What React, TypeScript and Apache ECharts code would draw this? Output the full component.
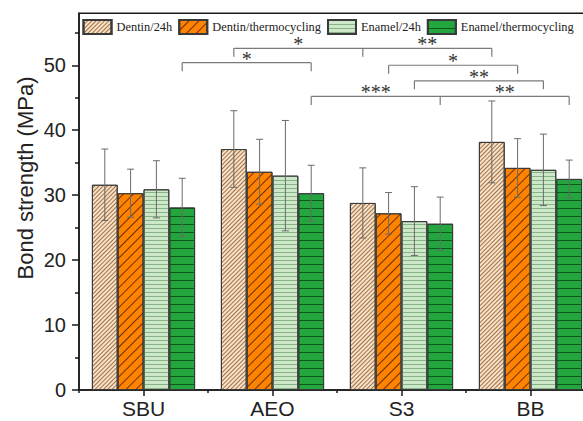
import React, { useEffect, useRef } from 'react';
import * as echarts from 'echarts';

const categories = ['SBU', 'AEO', 'S3', 'BB'];
const seriesNames = ['Dentin/24h', 'Dentin/thermocycling', 'Enamel/24h', 'Enamel/thermocycling'];

const dentin24h = [31.6, 37.1, 28.8, 38.2];
const dentin24hSD = [5.5, 5.9, 5.4, 6.3];
const dentinTC = [30.3, 33.6, 27.2, 34.2];
const dentinTCSD = [3.7, 5.0, 3.2, 4.5];
const enamel24h = [30.9, 33.0, 26.0, 33.9];
const enamel24hSD = [4.4, 8.5, 5.3, 5.5];
const enamelTC = [28.1, 30.3, 25.6, 32.5];
const enamelTCSD = [4.5, 4.3, 4.1, 2.9];

const yTicks = [0, 10, 20, 30, 40, 50];
const yMinorTicks = [5, 15, 25, 35, 45, 55];
const yMax = 58;

// significance brackets: [categoryIndex, seriesIndex] anchors, height (MPa), labels between anchors
const bracketAnchors = [
  [[1, 0], [2, 0], [3, 0]],
  [[0, 3], [1, 3]],
  [[2, 1], [3, 1]],
  [[2, 2], [3, 2]],
  [[1, 3], [2, 3], [3, 3]],
];
const bracketHeights = [52.6, 50.4, 50.0, 47.6, 45.2];
const bracketLabels = [['*', '**'], ['*'], ['*'], ['**'], ['***', '**']];

const means = [dentin24h, dentinTC, enamel24h, enamelTC];
const sds = [dentin24hSD, dentinTCSD, enamel24hSD, enamelTCSD];

const fills = ['#fbe0c4', '#ff8200', '#cde8c9', '#22a63d'];
const decals = [
  { color: 'rgba(120,80,40,0.75)', dashArrayY: [1, 2], rotation: -Math.PI / 4 },
  { color: 'rgba(90,40,0,0.9)', dashArrayY: [1, 6], rotation: -Math.PI / 4 },
  { color: 'rgba(110,160,110,0.75)', dashArrayY: [1, 3], rotation: 0 },
  { color: 'rgba(10,80,25,0.9)', dashArrayY: [1, 7], rotation: 0 },
];

const BAR_FRAC = 0.2;

export default function App() {
  const ref = useRef<HTMLDivElement>(null);
  useEffect(() => {
    if (!ref.current) return;
    const chart = echarts.init(ref.current, null, { renderer: 'svg' });

    const barSeries = seriesNames.map((name, s) => ({
      type: 'bar',
      name,
      xAxisIndex: 0,
      yAxisIndex: 0,
      data: means[s],
      barGap: '0%',
      barCategoryGap: '20%',
      z: 2,
      itemStyle: {
        color: fills[s],
        borderColor: '#3a3a3a',
        borderWidth: 1,
        decal: {
          symbol: 'rect',
          symbolSize: 1,
          dashArrayX: [1, 0],
          dashArrayY: decals[s].dashArrayY,
          rotation: decals[s].rotation,
          color: decals[s].color,
        },
      },
    }));

    const errSeries = seriesNames.map((name, s) => ({
      type: 'custom',
      xAxisIndex: 0,
      yAxisIndex: 0,
      z: 5,
      silent: true,
      data: categories.map((c, i) => [i, means[s][i], sds[s][i]]),
      renderItem: (params: any, api: any) => {
        const cat = api.value(0);
        const m = api.value(1);
        const sd = api.value(2);
        const band = api.size([1, 0])[0];
        const cx = api.coord([cat, m])[0] + (s - 1.5) * band * BAR_FRAC;
        const yT = api.coord([cat, m + sd])[1];
        const yB = api.coord([cat, m - sd])[1];
        const st = { stroke: '#6a6a6a', lineWidth: 1 };
        return {
          type: 'group',
          children: [
            { type: 'line', shape: { x1: cx, y1: yT, x2: cx, y2: yB }, style: st },
            { type: 'line', shape: { x1: cx - 3.5, y1: yT, x2: cx + 3.5, y2: yT }, style: st },
            { type: 'line', shape: { x1: cx - 3.5, y1: yB, x2: cx + 3.5, y2: yB }, style: st },
          ],
        };
      },
    }));

    const bracketSeries = {
      type: 'custom',
      xAxisIndex: 0,
      yAxisIndex: 0,
      z: 6,
      silent: true,
      data: bracketHeights.map((h, i) => [bracketAnchors[i][0][0], h, i]),
      renderItem: (params: any, api: any) => {
        const idx = params.dataIndex;
        const h = bracketHeights[idx];
        const band = api.size([1, 0])[0];
        const xs = bracketAnchors[idx].map(
          ([c, s]) => api.coord([c, h])[0] + (s - 1.5) * band * BAR_FRAC
        );
        const y = api.coord([0, h])[1];
        const st = { stroke: '#7a7a7a', lineWidth: 1.2 };
        const children: any[] = [
          { type: 'line', shape: { x1: xs[0], y1: y, x2: xs[xs.length - 1], y2: y }, style: st },
        ];
        xs.forEach((x) => {
          children.push({ type: 'line', shape: { x1: x, y1: y, x2: x, y2: y + 8.5 }, style: st });
        });
        bracketLabels[idx].forEach((lab, k) => {
          children.push({
            type: 'text',
            x: (xs[k] + xs[k + 1]) / 2,
            y: y - 4,
            style: {
              text: lab,
              fontFamily: 'Liberation Serif',
              fontSize: 20,
              fill: '#333',
              align: 'center',
              verticalAlign: 'middle',
            },
          });
        });
        return { type: 'group', children };
      },
    };

    const option: any = {
      animation: false,
      backgroundColor: '#ffffff',
      grid: {
        left: 79,
        top: 13.3,
        bottom: 31,
        width: 516,
        show: true,
        borderColor: '#1a1a1a',
        borderWidth: 1.5,
        backgroundColor: 'transparent',
        containLabel: false,
        outerBoundsMode: 'none',
      },
      legend: {
        data: seriesNames,
        left: 82.5,
        top: 19,
        width: 560,
        padding: 0,
        itemGap: 6,
        itemWidth: 28,
        itemHeight: 14,
        icon: 'rect',
        selectedMode: false,
        textStyle: { fontFamily: 'Liberation Serif', fontSize: 12.4, color: '#222' },
      },
      xAxis: [
        {
          type: 'category',
          data: categories,
          position: 'bottom',
          axisLine: { show: true, lineStyle: { color: '#1a1a1a', width: 1.5 } },
          axisTick: { show: true, alignWithLabel: true, length: 6, lineStyle: { color: '#1a1a1a', width: 1.5 } },
          axisLabel: { show: true, margin: 8, fontFamily: 'Liberation Sans', fontSize: 21, color: '#222' },
          splitLine: { show: false },
        },
        {
          type: 'category',
          data: categories,
          position: 'bottom',
          axisLine: { show: false },
          axisTick: { show: true, alignWithLabel: false, length: 3, lineStyle: { color: '#1a1a1a', width: 1.5 } },
          axisLabel: { show: false },
          splitLine: { show: false },
        },
      ],
      yAxis: [
        {
          type: 'value',
          min: 0,
          max: yMax,
          interval: 10,
          position: 'left',
          axisLine: { show: true, lineStyle: { color: '#1a1a1a', width: 1.5 } },
          axisTick: { show: true, length: 7, customValues: yTicks, lineStyle: { color: '#1a1a1a', width: 1.5 } },
          axisLabel: {
            show: true,
            margin: 13,
            customValues: yTicks,
            fontFamily: 'Liberation Sans',
            fontSize: 20,
            color: '#222',
            formatter: (v: number) => (v % 10 === 0 ? String(v) : ''),
          },
          splitLine: { show: false },
        },
        {
          type: 'value',
          min: 0,
          max: yMax,
          interval: 5,
          position: 'left',
          axisLine: { show: false },
          axisTick: { show: true, length: 4, customValues: yMinorTicks, lineStyle: { color: '#1a1a1a', width: 1.5 } },
          axisLabel: { show: false },
          splitLine: { show: false },
        },
      ],
      graphic: [
        {
          type: 'text',
          x: 25,
          y: 178,
          rotation: Math.PI / 2,
          style: {
            text: 'Bond strength (MPa)',
            fontFamily: 'Liberation Sans',
            fontSize: 22,
            fill: '#222',
            align: 'center',
            verticalAlign: 'middle',
          },
        },
      ],
      series: [...barSeries, ...errSeries, bracketSeries],
    };

    chart.setOption(option);
    return () => chart.dispose();
  }, []);

  return <div ref={ref} style={{ width: 583, height: 421, position: 'absolute', left: 0, top: 0 }} />;
}
